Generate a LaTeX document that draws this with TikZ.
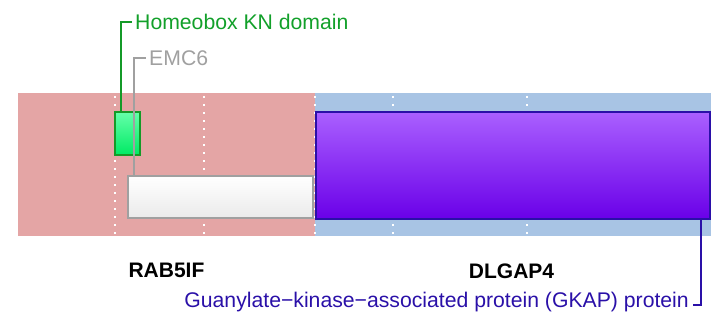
\documentclass[tikz,border=0pt]{standalone}
\usepackage{fontspec}
\setmainfont{Liberation Sans}
\definecolor{pinkbg}{HTML}{E4A5A5}
\definecolor{bluebg}{HTML}{A8C4E4}
\definecolor{kngreen}{HTML}{12A02A}
\definecolor{kngreenline}{HTML}{149A28}
\definecolor{emcgray}{HTML}{A0A0A0}
\definecolor{gkapblue}{HTML}{2A10A8}
\definecolor{purtop}{HTML}{AA60FF}
\definecolor{purbot}{HTML}{6A00E8}
\definecolor{grntop}{HTML}{66FFAA}
\definecolor{grnbot}{HTML}{00EA64}
\tikzset{
  dotline/.style={white, line width=1.6pt, dash pattern=on 1.6pt off 6.4pt},
  domainbox/.style={draw, line width=1.5pt, inner sep=0pt, anchor=north west},
  conn/.style={line width=1.8pt},
  lbl/.style={font=\fontsize{21.2}{23}\selectfont, inner sep=0pt, anchor=west},
  genelbl/.style={font=\fontsize{21}{23}\selectfont\bfseries, inner sep=0pt}
}
\begin{document}
\begin{tikzpicture}[x=1pt,y=-1pt]
\useasboundingbox (0,0) rectangle (719,326);
% backgrounds
\fill[pinkbg] (18,93) rectangle (315,236);
\fill[bluebg] (315,93) rectangle (711,236);
% dotted guides
\foreach \xx in {115,204,315,393,527}
  \draw[dotline] (\xx,96) -- (\xx,236);
% boxes
\node[domainbox, draw=emcgray, top color=white, bottom color=white!92!black,
      minimum width=185pt, minimum height=42pt] (emc) at (127,175) {};
\node[domainbox, draw=kngreenline, top color=grntop, bottom color=grnbot,
      minimum width=25pt, minimum height=43pt] (kn) at (114,111) {};
\node[domainbox, draw=gkapblue, top color=purtop, bottom color=purbot,
      minimum width=394pt, minimum height=107pt] (gkap) at (315,111) {};
% labels
\node[lbl, text=kngreen] (knl) at (135,22) {Homeobox KN domain};
\node[lbl, text=emcgray] (emcl) at (149,58) {EMC6};
\node[lbl, text=gkapblue, anchor=east] (gkapl) at (689,302) {Guanylate−kinase−associated protein (GKAP) protein};
\node[genelbl] (g1) at (166.5,270.5) {RAB5IF};
\node[genelbl] (g2) at (511.5,271) {DLGAP4};
% connectors
\coordinate (kncorner) at (121,22);
\coordinate (emccorner) at (134,58);
\coordinate (gkapcorner) at (701,305);
\draw[conn, kngreenline] (kn.north west -| kncorner) -- (kncorner) -- ([xshift=-3pt]knl.west);
\draw[conn, emcgray] (emc.north west -| emccorner) -- (emccorner) -- ([xshift=-3pt]emcl.west);
\draw[conn, gkapblue] (gkap.south west -| gkapcorner) -- (gkapcorner) -- ([xshift=4pt]gkapl.east |- gkapcorner);
\end{tikzpicture}
\end{document}
